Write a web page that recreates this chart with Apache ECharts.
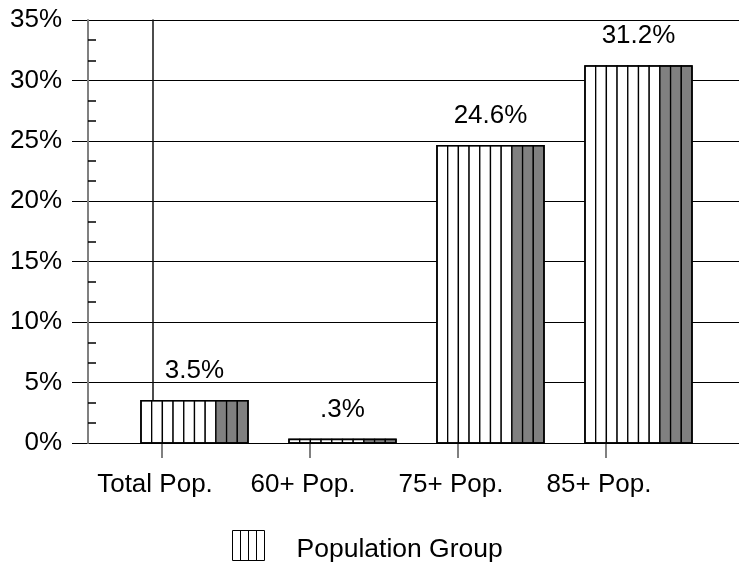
<!DOCTYPE html>
<html>
<head>
<meta charset="utf-8">
<script src="https://cdn.jsdelivr.net/npm/echarts@6/dist/echarts.min.js"></script>
<style>
html,body{margin:0;padding:0;background:#fff;}
#chart{width:739px;height:562px;}
</style>
</head>
<body>
<div id="chart"></div>
<script>
const categories = ['Total Pop.', '60+ Pop.', '75+ Pop.', '85+ Pop.'];
const values = [3.5, 0.3, 24.6, 31.2];
const valueLabels = ['3.5%', '.3%', '24.6%', '31.2%'];
const seriesName = 'Population Group';
const yMin = 0, yMax = 35, yInterval = 5;

const FONT = '"Liberation Sans", Arial, Helvetica, sans-serif';
const chart = echarts.init(document.getElementById('chart'), null, {renderer: 'canvas'});

const option = {
  backgroundColor: '#fff',
  animation: false,
  textStyle: {fontFamily: FONT},
  grid: [
    {left: 72, right: 0, top: 20, bottom: 119},
    {left: 88, width: 592, top: 20, bottom: 119}
  ],
  legend: {
    data: [{name: seriesName, icon: 'path://M0,0H32V30H0Z M8,0V30 M16,0V30 M24,0V30 M0,38'}],
    left: 232, top: 530, padding: 0,
    itemWidth: 32, itemHeight: 38,
    itemStyle: {color: '#fff', borderColor: '#000', borderWidth: 1},
    textStyle: {fontSize: 26.5, color: '#000', fontFamily: FONT, padding: [0, 0, 0, 27]}
  },
  xAxis: [
    {gridIndex: 0, type: 'category', data: categories, show: false},
    {
      gridIndex: 1, type: 'category', data: categories, boundaryGap: true,
      axisLine: {show: false},
      axisTick: {show: true, interval: 0, alignWithLabel: true, length: 15, lineStyle: {color: '#808080', width: 2}},
      axisLabel: {interval: 0, hideOverlap: false, fontSize: 26, color: '#000', margin: 29, fontFamily: FONT, padding: [0, 14, 0, 0]},
      splitLine: {show: false}
    }
  ],
  yAxis: [
    {
      gridIndex: 0, type: 'value', position: 'left', min: yMin, max: yMax, interval: yInterval, offset: -16,
      axisLine: {show: true, lineStyle: {color: '#808080', width: 2}},
      axisTick: {show: false, inside: true},
      minorTick: {show: true, splitNumber: 3, length: 8, lineStyle: {color: '#000', width: 1.5}},
      axisLabel: {formatter: '{value}%', fontSize: 26, color: '#000', margin: 26, fontFamily: FONT},
      splitLine: {show: true, lineStyle: {color: '#000', width: 1.2}},
      minorSplitLine: {show: false}
    },
    {
      gridIndex: 0, type: 'value', position: 'left', min: yMin, max: yMax, offset: -81,
      axisLine: {show: true, lineStyle: {color: '#111', width: 1.5}},
      axisTick: {show: false}, axisLabel: {show: false}, splitLine: {show: false}
    },
    {gridIndex: 1, type: 'value', min: yMin, max: yMax, show: false, splitLine: {show: false}}
  ],
  series: [
    {
      name: seriesName,
      type: 'custom',
      xAxisIndex: 1,
      yAxisIndex: 2,
      itemStyle: {color: '#fff'},
      data: categories.map((c, i) => [i, values[i]]),
      renderItem: function (params, api) {
        const i = api.value(0);
        const v = api.value(1);
        const base = api.coord([i, 0]);
        const top = api.coord([i, v]);
        const band = api.size([1, 0])[0];
        const w = band * 0.723;
        const x0 = base[0] - band * 0.142;
        const n = 10, nWhite = 7;
        const sw = w / n;
        const h = base[1] - top[1];
        const children = [];
        for (let k = 0; k < n; k++) {
          children.push({
            type: 'rect',
            shape: {x: x0 + k * sw, y: top[1], width: sw, height: h},
            style: {fill: k < nWhite ? '#fff' : '#808080', stroke: '#000', lineWidth: 1.3}
          });
        }
        children.push({
          type: 'rect',
          shape: {x: x0, y: top[1], width: w, height: h},
          style: {fill: 'none', stroke: '#000', lineWidth: 1.6}
        });
        children.push({
          type: 'text',
          style: {
            text: valueLabels[params.dataIndex],
            x: x0 + w / 2, y: top[1] - 30,
            align: 'center', verticalAlign: 'middle',
            fontSize: 26, fontFamily: FONT, fill: '#000'
          }
        });
        return {type: 'group', children: children};
      }
    }
  ]
};
chart.setOption(option);
</script>
</body>
</html>
